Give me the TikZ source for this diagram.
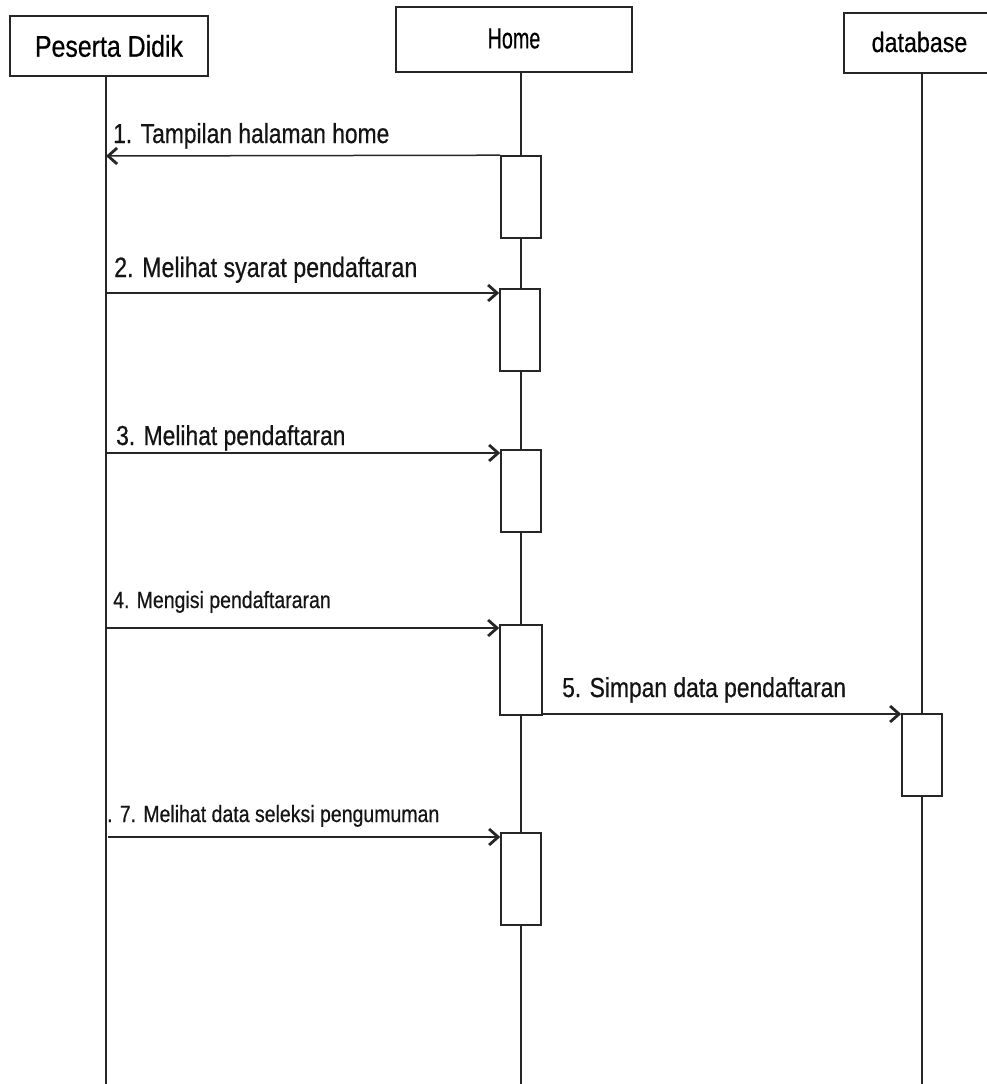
\documentclass[tikz,border=0pt]{standalone}
\usepackage{fontspec}
\setmainfont{Liberation Sans}[FakeStretch=0.83,FakeBold=0.5]
\usetikzlibrary{arrows.meta}

\begin{document}
\begin{tikzpicture}[x=1pt,y=-1pt,
  ink/.style={draw=black!85, line width=1.6pt},
  head/.style={ink, fill=white, rectangle, inner sep=0pt, minimum height=60pt},
  lifeline/.style={ink, line width=1.5pt},
  act/.style={ink, fill=white, rectangle, inner sep=0pt, minimum width=40pt},
  msg/.style={ink, line width=1.5pt, -{Straight Barb[length=9pt,width=16pt,line width=2.8pt]}},
  lbl/.style={anchor=base west, inner sep=0pt, text=black!92},
  big/.style={lbl, font=\fontsize{27.5}{32}\selectfont},
  small/.style={lbl, font=\fontsize{23.5}{28}\selectfont}]

\useasboundingbox (0,0) rectangle (987,1084);
\clip (0,0) rectangle (987,1084);

% participants
\node[head, minimum width=198pt] (pd) at (109,46)
  {\fontsize{30}{34}\selectfont Peserta Didik};
\node[head, minimum width=236pt, minimum height=65pt] (home) at (514,39.5) {};
\node at (514,38.5) {\fontsize{29}{34}\selectfont\scalebox{0.82}[1]{Home}};
\node[head, minimum width=156pt] (db) at (922,43) {};
\node at (919.5,42) {\fontsize{28}{32}\selectfont database};

% lifelines
\coordinate (pdEnd) at (106,1084);
\coordinate (homeEnd) at (521,1084);
\coordinate (dbEnd) at (922,1084);
\draw[lifeline] (pd.south -| pdEnd) -- (pdEnd);
\draw[lifeline] (home.south -| homeEnd) -- (homeEnd);
\draw[lifeline] (db.south -| dbEnd) -- (dbEnd);

% activation bars
\node[act, minimum height=82pt] (a1) at (521,197) {};
\node[act, minimum height=82pt] (a2) at (520,330) {};
\node[act, minimum height=82pt] (a3) at (521,491) {};
\node[act, minimum height=90pt, minimum width=42pt] (a4) at (521,670) {};
\node[act, minimum height=82pt] (a5) at (922,755) {};
\node[act, minimum height=92pt] (a6) at (521,879) {};

% message end points on the actor lifeline
\coordinate (m1) at (106,156);
\coordinate (m2) at (106,293);
\coordinate (m3) at (107,453);
\coordinate (m4) at (107,628);
\coordinate (m5) at (542,714);
\coordinate (m7) at (108,837);

% messages
\draw[msg] (a1.north west) -- (m1);
\draw[msg] (m2) -- (m2 -| a2.west);
\draw[msg] (m3) -- (m3 -| a3.west);
\draw[msg] (m4) -- (m4 -| a4.west);
\draw[msg] (m5) -- (m5 -| a5.west);
\draw[msg] (m7) -- (m7 -| a6.west);

% message labels
\node[big] (l1) at (113,143) {1. Tampilan halaman home};
\node[big, font=\fontsize{28}{32}\selectfont] (l2) at (114,277) {2. Melihat syarat pendaftaran};
\node[big] (l3) at (116,445) {3. Melihat pendaftaran};
\node[small] (l4) at (113,608) {4. Mengisi pendaftararan};
\node[big] (l5) at (562,697) {5. Simpan data pendaftaran};
\node[small] (l7) at (107,822) {. 7. Melihat data seleksi pengumuman};
\end{tikzpicture}
\end{document}
